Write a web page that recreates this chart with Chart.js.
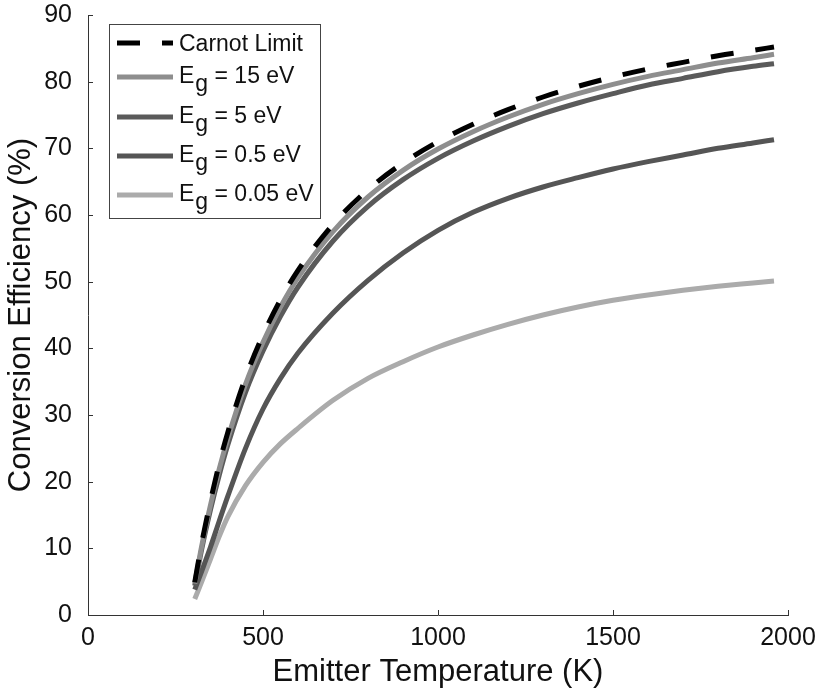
<!DOCTYPE html>
<html><head><meta charset="utf-8">
<script src="https://cdn.jsdelivr.net/npm/chart.js@4.4.0/dist/chart.umd.min.js"></script>
<style>html,body{margin:0;padding:0;background:#fff}#wrap{width:818px;height:694px}</style>
</head><body><div id="wrap"><canvas id="c" width="818" height="694"></canvas></div>
<script>
// ---- data ----
const temperatures = [305, 325, 350, 375, 400, 450, 500, 550, 600, 700, 800, 900, 1000, 1100, 1200, 1300, 1400, 1500, 1600, 1700, 1800, 1900, 1960];
const carnotLimit = [4.9, 10.8, 17.1, 22.7, 27.5, 35.6, 42.0, 47.3, 51.7, 58.6, 63.8, 67.8, 71.0, 73.6, 75.8, 77.7, 79.3, 80.7, 81.9, 82.9, 83.9, 84.7, 85.2];
const eg15 = [4.7, 10.4, 16.5, 21.9, 26.6, 34.6, 40.9, 46.2, 50.6, 57.5, 62.7, 66.7, 69.9, 72.5, 74.7, 76.6, 78.2, 79.6, 80.8, 81.8, 82.8, 83.6, 84.1];
const eg5 = [4.4, 9.9, 15.8, 21.0, 25.6, 33.4, 39.6, 44.8, 49.2, 56.1, 61.3, 65.3, 68.5, 71.1, 73.3, 75.2, 76.8, 78.2, 79.5, 80.5, 81.5, 82.3, 82.7];
const eg05 = [3.8, 6.6, 10.2, 14.1, 17.9, 25.0, 30.9, 35.5, 39.3, 45.3, 50.2, 54.3, 57.7, 60.4, 62.5, 64.2, 65.6, 66.9, 68.0, 69.0, 70.0, 70.8, 71.3];
const eg005 = [2.4, 5.0, 8.4, 11.8, 14.8, 19.4, 22.9, 25.7, 28.0, 32.2, 35.5, 38.0, 40.2, 42.0, 43.6, 45.0, 46.2, 47.2, 48.0, 48.7, 49.3, 49.8, 50.1];
const seriesLabels = ['Carnot Limit', 'E_g = 15 eV', 'E_g = 5 eV', 'E_g = 0.5 eV', 'E_g = 0.05 eV'];
const xTickValues = [0, 500, 1000, 1500, 2000];
const yTickValues = [0, 10, 20, 30, 40, 50, 60, 70, 80, 90];
const xTitle = 'Emitter Temperature (K)';
const yTitle = 'Conversion Efficiency (%)';

const FONT = "'Liberation Sans', Arial, Helvetica, sans-serif";
const toPts = arr => temperatures.map((t, i) => ({x: t, y: arr[i]}));

const styles = [
  {color: '#000000', width: 5, dash: [23, 22]},
  {color: '#8e8e8e', width: 5, dash: []},
  {color: '#5a5a5a', width: 5, dash: []},
  {color: '#555555', width: 5, dash: []},
  {color: '#ababab', width: 5, dash: []}
];
const seriesData = [carnotLimit, eg15, eg5, eg05, eg005];

const datasets = seriesData.map((arr, i) => ({
  label: seriesLabels[i],
  data: toPts(arr),
  borderColor: styles[i].color,
  borderWidth: styles[i].width,
  borderDash: styles[i].dash,
  pointRadius: 0,
  fill: false,
  cubicInterpolationMode: 'monotone',
  borderCapStyle: 'butt'
}));

const innerTicks = {
  id: 'innerTicks',
  afterDraw(chart) {
    const {ctx, chartArea, scales} = chart;
    ctx.save();
    ctx.strokeStyle = '#333';
    ctx.lineWidth = 1;
    xTickValues.forEach(v => {
      const px = Math.round(scales.x.getPixelForValue(v)) + 0.5;
      ctx.beginPath(); ctx.moveTo(px, chartArea.bottom); ctx.lineTo(px, chartArea.bottom - 5); ctx.stroke();
    });
    yTickValues.forEach(v => {
      const py = Math.round(scales.y.getPixelForValue(v)) + 0.5;
      ctx.beginPath(); ctx.moveTo(chartArea.left, py); ctx.lineTo(chartArea.left + 5, py); ctx.stroke();
    });
    ctx.restore();
  }
};

const customLegend = {
  id: 'customLegend',
  afterDatasetsDraw(chart) {
    const {ctx, chartArea} = chart;
    const bx = chartArea.left + 21, by = chartArea.top + 9, bw = 211, bh = 194;
    ctx.save();
    ctx.fillStyle = '#fff';
    ctx.fillRect(bx, by, bw, bh);
    ctx.strokeStyle = '#444';
    ctx.lineWidth = 1;
    ctx.strokeRect(Math.round(bx) + 0.5, Math.round(by) + 0.5, bw, bh);
    const rows = [19, 51, 91, 130, 169];
    const fontSize = 23;
    chart.data.datasets.forEach((ds, i) => {
      const cy = by + rows[i];
      const lineY = i === 0 ? cy : cy + 2;
      ctx.save();
      ctx.strokeStyle = ds.borderColor;
      ctx.lineWidth = ds.borderWidth;
      ctx.setLineDash(ds.borderDash || []);
      ctx.beginPath();
      ctx.moveTo(bx + 8, lineY);
      ctx.lineTo(bx + 64, lineY);
      ctx.stroke();
      ctx.restore();
      ctx.fillStyle = '#111';
      ctx.font = fontSize + 'px ' + FONT;
      ctx.textBaseline = 'alphabetic';
      ctx.textAlign = 'left';
      const base = cy + 0.36 * fontSize;
      let x = bx + 70;
      const label = ds.label;
      const idx = label.indexOf('_');
      if (idx >= 0) {
        const main = label.slice(0, idx);
        const sub = label.charAt(idx + 1);
        const rest = label.slice(idx + 2);
        ctx.fillText(main, x, base); x += ctx.measureText(main).width + 1;
        ctx.fillText(sub, x, base + 8); x += ctx.measureText(sub).width;
        ctx.fillText(rest, x, base);
      } else {
        ctx.fillText(label, x, base);
      }
    });
    ctx.restore();
  }
};

new Chart(document.getElementById('c'), {
  type: 'line',
  data: {datasets},
  options: {
    responsive: false,
    devicePixelRatio: 1,
    animation: false,
    events: [],
    layout: {padding: {top: 0, right: 3, left: 0, bottom: 0}},
    plugins: {legend: {display: false}, tooltip: {enabled: false}},
    scales: {
      x: {
        type: 'linear', min: 0, max: 2000,
        afterFit: s => { s.height = 79; s.paddingLeft = 0; s.paddingRight = 30; },
        afterBuildTicks: s => { s.ticks = xTickValues.map(v => ({value: v})); },
        grid: {display: false, drawTicks: false},
        border: {display: true, color: '#333', width: 1},
        ticks: {padding: 8, color: '#111', font: {family: FONT, size: 25}, maxRotation: 0, callback: v => String(v)},
        title: {display: true, text: xTitle, color: '#111', font: {family: FONT, size: 31}, padding: {top: 0, bottom: 3}}
      },
      y: {
        type: 'linear', min: 0, max: 90,
        afterFit: s => { s.width = 88; s.paddingTop = 15; s.paddingBottom = 0; },
        afterBuildTicks: s => { s.ticks = yTickValues.map(v => ({value: v})); },
        grid: {display: false, drawTicks: false},
        border: {display: true, color: '#333', width: 1},
        ticks: {padding: 16, color: '#111', font: {family: FONT, size: 25}, callback: v => String(v)},
        title: {display: true, text: yTitle, color: '#111', font: {family: FONT, size: 31}, padding: {top: 3, bottom: 0}}
      }
    }
  },
  plugins: [innerTicks, customLegend]
});
</script>
</body></html>
